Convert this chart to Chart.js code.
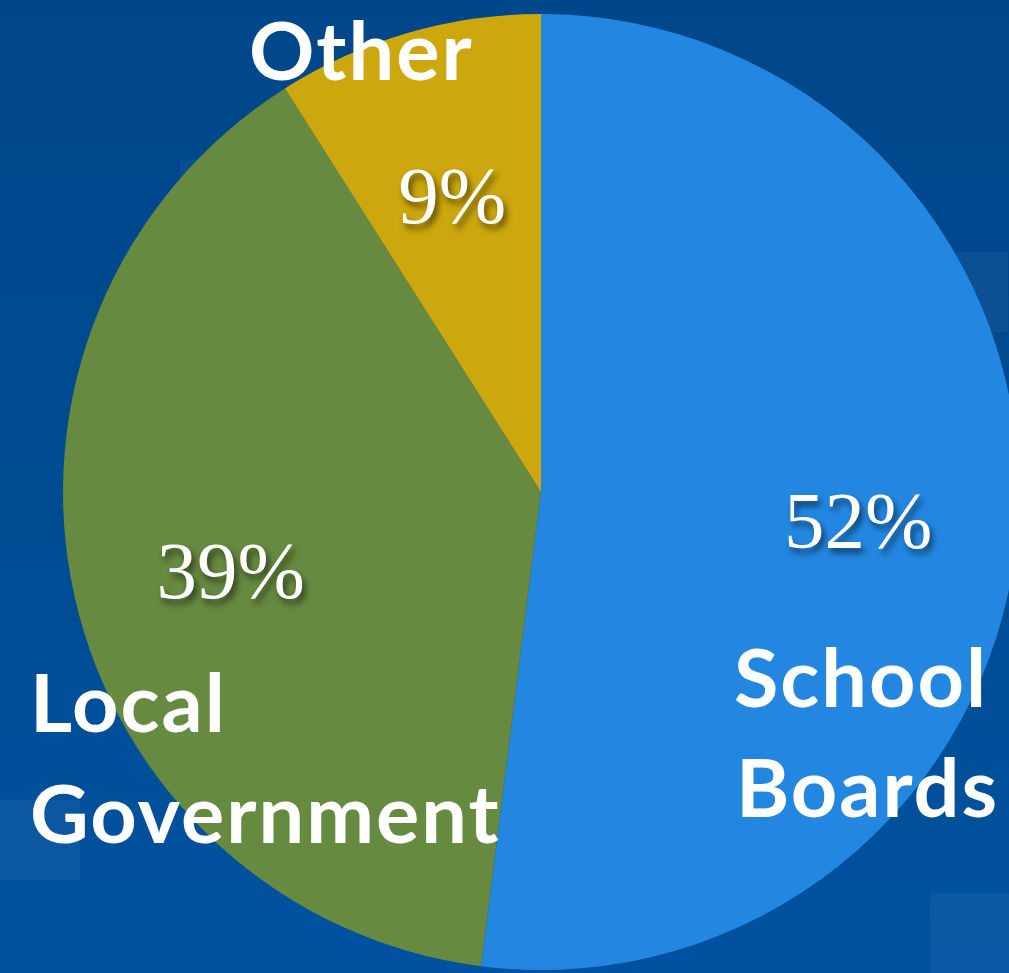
<!DOCTYPE html>
<html>
<head>
<meta charset="utf-8">
<script src="https://cdn.jsdelivr.net/npm/chart.js@4/dist/chart.umd.min.js"></script>
<style>
  html, body { margin: 0; padding: 0; width: 1009px; height: 973px; overflow: hidden; }
  body { background: linear-gradient(180deg, #00468a 0%, #004b91 45%, #0052a0 100%); position: relative; }
  .tile { position: absolute; width: 80px; height: 80px; background: rgba(255,255,255,0.045); }
  #wrap { position: absolute; left: 0; top: 0; width: 1082px; height: 973px; }
</style>
</head>
<body>
<div class="tile" style="left:0;top:800px"></div>
<div class="tile" style="left:928px;top:252px"></div>
<div class="tile" style="left:930px;top:893px"></div>
<div class="tile" style="left:180px;top:160px"></div>
<div class="tile" style="left:275px;top:255px"></div>
<div id="wrap"><canvas id="pie" width="1082" height="973"></canvas></div>
<script>
// Share of total by body
const categories = ['School Boards', 'Local Government', 'Other'];
const shares = [52, 39, 9];
const sliceColors = ['#2387e2', '#668a40', '#cca70e'];

// Category captions, each line placed beside its slice
const captions = [
  { lines: ['School', 'Boards'], x: [734, 736], y: [707, 817] },
  { lines: ['Local', 'Government'], x: [30, 30], y: [732, 843] },
  { lines: ['Other'], x: [249], y: [80] }
];

const labelPlugin = {
  id: 'sliceLabels',
  afterDatasetsDraw(chart) {
    const ctx = chart.ctx;
    const meta = chart.getDatasetMeta(0);
    ctx.save();
    // percentage inside each slice
    ctx.font = '81px "Liberation Serif", "DejaVu Serif", serif';
    ctx.textAlign = 'center';
    ctx.textBaseline = 'middle';
    ctx.fillStyle = '#ffffff';
    ctx.shadowColor = 'rgba(0,0,0,0.55)';
    ctx.shadowBlur = 6;
    ctx.shadowOffsetX = 3;
    ctx.shadowOffsetY = 5;
    meta.data.forEach((arc, i) => {
      const p = arc.getProps(['x', 'y', 'startAngle', 'endAngle', 'outerRadius'], true);
      const mid = (p.startAngle + p.endAngle) / 2;
      const r = p.outerRadius * 0.665;
      ctx.fillText(shares[i] + '%', p.x + Math.cos(mid) * r, p.y + Math.sin(mid) * r + 15);
    });
    // category names
    ctx.shadowColor = 'transparent';
    ctx.shadowBlur = 0;
    ctx.shadowOffsetX = 0;
    ctx.shadowOffsetY = 0;
    ctx.font = 'bold 81px Lato, "Open Sans", sans-serif';
    ctx.letterSpacing = '2px';
    ctx.textAlign = 'left';
    ctx.textBaseline = 'alphabetic';
    captions.forEach(c => {
      c.lines.forEach((t, k) => ctx.fillText(t, c.x[k], c.y[k]));
    });
    ctx.restore();
  }
};

new Chart(document.getElementById('pie'), {
  type: 'pie',
  data: {
    labels: categories,
    datasets: [{
      data: shares,
      backgroundColor: sliceColors,
      borderWidth: 0
    }]
  },
  options: {
    responsive: false,
    devicePixelRatio: 1,
    animation: false,
    layout: { padding: { top: 14, bottom: 3, left: 0, right: 0 } },
    plugins: { legend: { display: false }, tooltip: { enabled: false } }
  },
  plugins: [labelPlugin]
});
</script>
</body>
</html>
